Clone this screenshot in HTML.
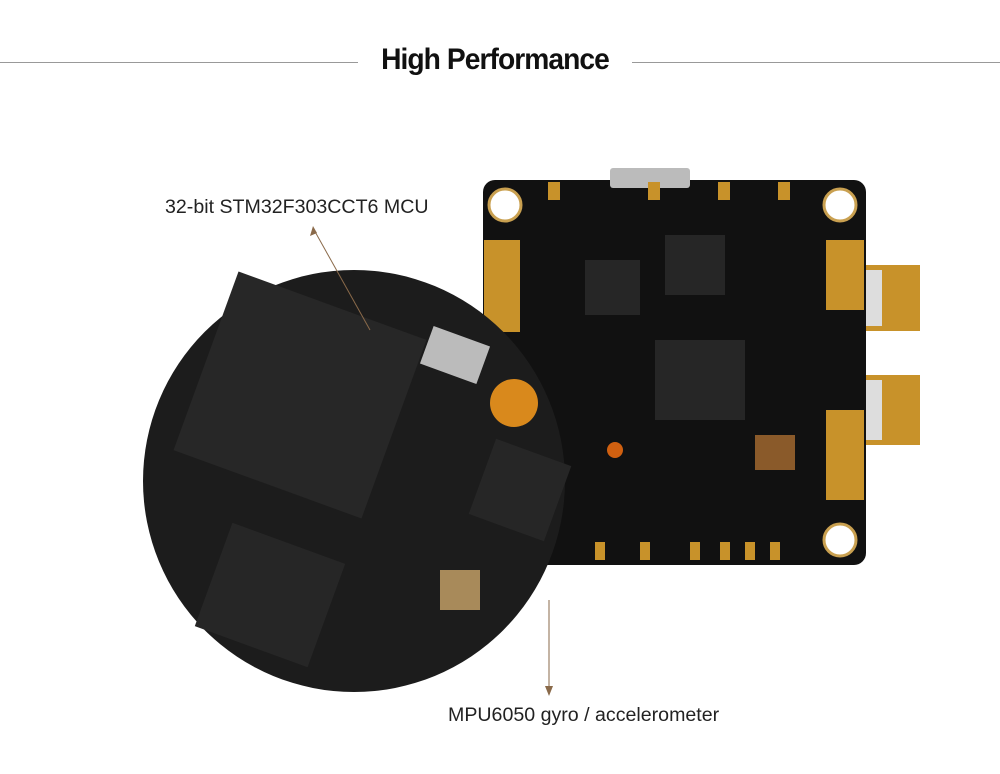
<!DOCTYPE html>
<html><head><meta charset="utf-8"><style>
html,body{margin:0;padding:0;background:#fff;}
body{width:1000px;height:774px;position:relative;overflow:hidden;font-family:"Liberation Sans",sans-serif;}
.title{position:absolute;left:358px;width:274px;top:43px;text-align:center;font-weight:bold;font-size:30px;letter-spacing:-1px;color:#111;transform:scaleX(0.94);}
.hl{position:absolute;top:62px;height:1px;background:#999;}
.lbl{position:absolute;font-size:19.6px;color:#222;white-space:nowrap;}
</style></head><body>
<div class="hl" style="left:0;width:358px"></div>
<div class="hl" style="left:632px;width:368px"></div>
<div class="title">High Performance</div>
<svg width="1000" height="774" style="position:absolute;left:0;top:0">
<rect x="483" y="180" width="383" height="385" rx="12" fill="#111"/>
<rect x="610" y="168" width="80" height="20" rx="3" fill="#bbb"/>
<circle cx="505" cy="205" r="16" fill="#fff" stroke="#c9a050" stroke-width="3"/>
<circle cx="840" cy="205" r="16" fill="#fff" stroke="#c9a050" stroke-width="3"/>
<circle cx="840" cy="540" r="16" fill="#fff" stroke="#c9a050" stroke-width="3"/>
<rect x="484" y="240" width="36" height="92" fill="#c8922a"/>
<rect x="826" y="240" width="38" height="70" fill="#c8922a"/>
<rect x="826" y="410" width="38" height="90" fill="#c8922a"/>
<rect x="866" y="265" width="54" height="66" fill="#c8922a"/>
<rect x="866" y="375" width="54" height="70" fill="#c8922a"/>
<rect x="866" y="270" width="16" height="56" fill="#ddd"/>
<rect x="866" y="380" width="16" height="60" fill="#ddd"/>
<rect x="655" y="340" width="90" height="80" fill="#262626"/>
<rect x="585" y="260" width="55" height="55" fill="#262626"/>
<rect x="665" y="235" width="60" height="60" fill="#262626"/>
<rect x="755" y="435" width="40" height="35" fill="#8a5a2a"/>
<circle cx="615" cy="450" r="8" fill="#d06010"/>
<g fill="#c8922a"><rect x="548" y="182" width="12" height="18"/><rect x="648" y="182" width="12" height="18"/><rect x="718" y="182" width="12" height="18"/><rect x="778" y="182" width="12" height="18"/>
<rect x="595" y="542" width="10" height="18"/><rect x="640" y="542" width="10" height="18"/><rect x="690" y="542" width="10" height="18"/><rect x="720" y="542" width="10" height="18"/><rect x="745" y="542" width="10" height="18"/><rect x="770" y="542" width="10" height="18"/></g>
<circle cx="354" cy="481" r="211" fill="#1c1c1c"/>
<rect x="200" y="300" width="200" height="190" fill="#272727" transform="rotate(20 300 395)"/>
<rect x="210" y="540" width="120" height="110" fill="#262626" transform="rotate(20 270 595)"/>
<rect x="480" y="450" width="80" height="80" fill="#262626" transform="rotate(20 520 490)"/>
<rect x="425" y="335" width="60" height="40" fill="#bbb" transform="rotate(20 455 355)"/>
<circle cx="514" cy="403" r="24" fill="#d9891c"/>
<rect x="440" y="570" width="40" height="40" fill="#a88a5a"/>
<line x1="313" y1="228" x2="370" y2="330" stroke="#8a6a4a" stroke-width="1"/>
<polygon points="313,226 310,236 317,233" fill="#8a6a4a"/>
<line x1="549" y1="600" x2="549" y2="692" stroke="#8a6a4a" stroke-width="1"/>
<polygon points="545,686 553,686 549,696" fill="#8a6a4a"/>
</svg>
<div class="lbl" style="left:165px;top:196px">32-bit STM32F303CCT6 MCU</div>
<div class="lbl" style="left:448px;top:704px">MPU6050 gyro / accelerometer</div>
</body></html>
